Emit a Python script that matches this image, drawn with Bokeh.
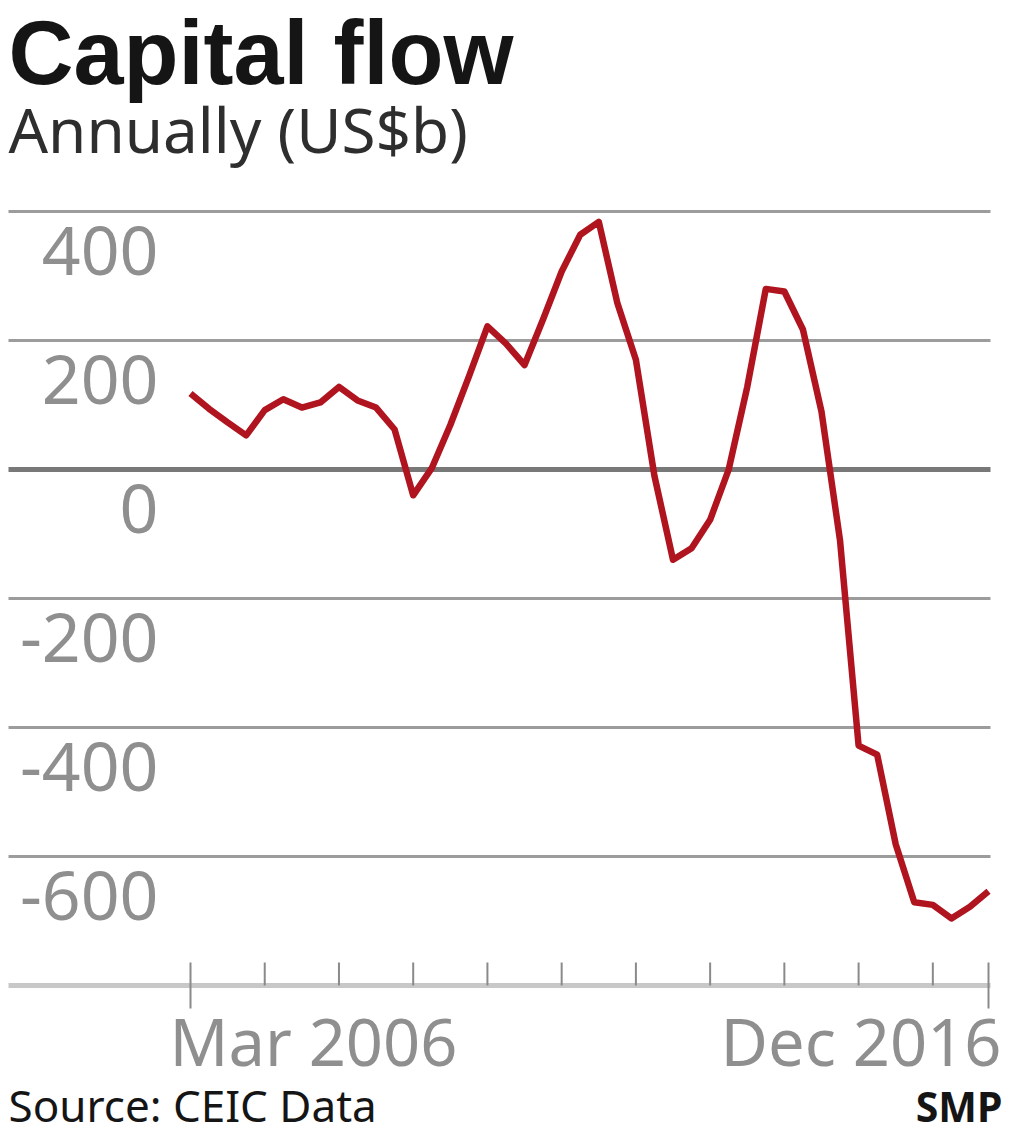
from bokeh.plotting import figure
from bokeh.models import ColumnDataSource, Range1d, LabelSet
from bokeh.core.properties import value
from bokeh.embed import file_html
from bokeh.resources import INLINE

# ---- data -------------------------------------------------------------
quarters = [f"{m} {y}" for y in range(2006, 2017) for m in ("Mar", "Jun", "Sep", "Dec")]
flow = [118, 94, 73, 53, 92, 109, 96, 104, 128, 107, 96, 62,
        -40, 2, 69, 144, 222, 195, 162, 233, 307, 364, 384, 258,
        170, -10, -140, -122, -78, 0, 128, 280, 276, 217, 90, -110,
        -428, -442, -581, -671, -675, -696, -678, -654]
y_ticks = [400, 200, 0, -200, -400, -600]
y_tick_labels = ["400", "200", "0", "-200", "-400", "-600"]
x_tick_quarters = ["Mar 2006", "Mar 2007", "Mar 2008", "Mar 2009", "Mar 2010", "Mar 2011",
                   "Mar 2012", "Mar 2013", "Mar 2014", "Mar 2015", "Mar 2016", "Dec 2016"]
x_label_first = "Mar 2006"
x_label_last = "Dec 2016"
axis_base = -800

# ---- layout constants ---------------------------------------------------
W, H = 1024, 1136
PX_PER_Q = 798 / 43.0           # pixels per quarter
PX_PER_UNIT = 0.645             # pixels per US$b
X0_PX, ZERO_PX = 190, 469
FONT = "Noto Sans"

idx = list(range(len(quarters)))
pos = {q: i for i, q in enumerate(quarters)}

def qx(px):
    return (px - X0_PX) / PX_PER_Q

def vy(px):
    return (ZERO_PX - px) / PX_PER_UNIT

p = figure(width=W, height=H, output_backend="svg", toolbar_location=None,
           x_range=Range1d(qx(0), qx(W)), y_range=Range1d(vy(H), vy(0)),
           x_axis_location=None, y_axis_location=None,
           min_border_left=0, min_border_right=0, min_border_top=0, min_border_bottom=0,
           background_fill_color="white", border_fill_color="white")
p.outline_line_color = None
p.xgrid.visible = False
p.ygrid.visible = False

GL, GR = qx(8), qx(990)

# horizontal gridlines (zero line darker and thicker)
grid_vals = [t for t in y_ticks if t != 0]
p.segment(x0=[GL] * len(grid_vals), y0=grid_vals, x1=[GR] * len(grid_vals), y1=grid_vals,
          line_color="#9c9c9c", line_width=3)
p.segment(x0=[GL], y0=[0], x1=[GR], y1=[0], line_color="#787878", line_width=5)
# base axis line
p.segment(x0=[GL], y0=[axis_base], x1=[GR], y1=[axis_base], line_color="#c8c8c8", line_width=5)

# ticks
tick_x = [pos[q] for q in x_tick_quarters]
tick_src = ColumnDataSource(dict(
    x=tick_x,
    y0=[axis_base + 23 / PX_PER_UNIT] * len(tick_x),
    y1=[axis_base - 23 / PX_PER_UNIT if q in (x_label_first, x_label_last) else axis_base
        for q in x_tick_quarters],
))
p.segment(x0="x", y0="y0", x1="x", y1="y1", source=tick_src, line_color="#8a8a8a", line_width=2)

# data line
src = ColumnDataSource(dict(x=idx, y=flow))
p.line("x", "y", source=src, line_color="#b0141f", line_width=6.5, line_join="round")

# y tick labels (below gridlines, right aligned)
ylab_src = ColumnDataSource(dict(x=[158] * len(y_ticks), y=y_ticks, t=y_tick_labels))
p.add_layout(LabelSet(x="x", y="y", text="t", source=ylab_src, x_units="screen",
                      y_offset=-63, text_align="right", text_baseline="alphabetic",
                      text_font=value(FONT), text_font_size="68px", text_color="#8f8f8f"))

# x labels
xlab_src = ColumnDataSource(dict(
    x=[pos[x_label_first], pos[x_label_last]], y=[axis_base, axis_base],
    t=[x_label_first, x_label_last], align=["left", "right"], dx=[-21, 13]))
p.add_layout(LabelSet(x="x", y="y", text="t", source=xlab_src, x_offset="dx", y_offset=-80,
                      text_align="align", text_baseline="alphabetic",
                      text_font=value(FONT), text_font_size="65px", text_color="#8f8f8f"))

def screen_text(x, y_px, text, size, style="normal", align="left", color="#151515", font=FONT):
    s = ColumnDataSource(dict(x=[x], y=[H - y_px], t=[text]))
    p.add_layout(LabelSet(x="x", y="y", text="t", source=s, x_units="screen", y_units="screen",
                          text_align=align, text_baseline="alphabetic", text_font=value(font),
                          text_font_style=style, text_font_size=size, text_color=color))

screen_text(8, 83, "Capital flow", "90px", style="bold", font="Liberation Sans")
screen_text(8, 152, "Annually (US$b)", "62px", color="#2e2e2e")
screen_text(8, 1121, "Source: CEIC Data", "44px")
screen_text(1002, 1121, "SMP", "41px", style="bold", align="right")

open("out.html", "w").write(file_html(p, INLINE))
